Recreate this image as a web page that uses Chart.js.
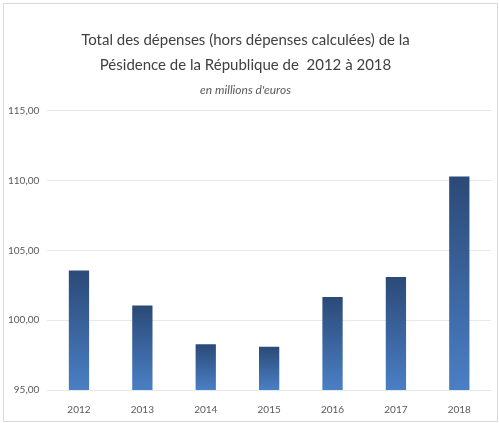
<!DOCTYPE html>
<html>
<head>
<meta charset="utf-8">
<script src="https://cdn.jsdelivr.net/npm/chart.js@4"></script>
<style>
  html, body { margin: 0; padding: 0; background: #fff; }
  #wrap { width: 499px; height: 423px; position: relative; }
</style>
</head>
<body>
<div id="wrap"><canvas id="depChart"></canvas></div>
<script>
const years = ["2012", "2013", "2014", "2015", "2016", "2017", "2018"];
const depenses = [103.56, 101.06, 98.27, 98.10, 101.66, 103.10, 110.30];
const yTicks = [95, 100, 105, 110, 115];

const fontFam = "Lato, 'Open Sans', sans-serif";

// dark top, lighter bottom, per bar
function barGradient(context) {
    const chart = context.chart;
    const y = chart.scales && chart.scales.y;
    if (!chart.chartArea || !y) return "#35609c";
    const v = context.raw;
    const top = y.getPixelForValue(v);
    const base = y.getPixelForValue(yTicks[0]);
    const g = chart.ctx.createLinearGradient(0, top, 0, base);
    g.addColorStop(0, "#2b4a77");
    g.addColorStop(1, "#4a7fc5");
    return g;
}

const framePlugin = {
    id: "frame",
    afterDraw(chart) {
        const ctx = chart.ctx;
        ctx.save();
        ctx.strokeStyle = "#d9d9d9";
        ctx.lineWidth = 1;
        ctx.strokeRect(3.5, 3.5, chart.width - 5, chart.height - 5);
        ctx.restore();
    }
};

new Chart(document.getElementById("depChart"), {
    type: "bar",
    data: {
        labels: years,
        datasets: [{
            label: "Total des dépenses",
            data: depenses,
            backgroundColor: barGradient,
            borderWidth: 0,
            categoryPercentage: 1,
            barPercentage: 0.32
        }]
    },
    options: {
        responsive: true,
        maintainAspectRatio: false,
        animation: false,
        layout: { padding: { left: 0, right: 8, top: 20, bottom: 1 } },
        plugins: {
            legend: { display: false },
            tooltip: { enabled: false },
            title: {
                display: true,
                text: ["Total des dépenses (hors dépenses calculées) de la", "Pésidence de la République de  2012 à 2018"],
                color: "#404040",
                align: "center",
                font: { family: fontFam, size: 15, weight: "normal", lineHeight: 1.65 },
                padding: { top: 8, bottom: 0 }
            },
            subtitle: {
                display: true,
                text: "en millions d'euros",
                color: "#595959",
                font: { family: fontFam, size: 12, style: "italic" },
                padding: { top: 5, bottom: 14 }
            }
        },
        scales: {
            y: {
                min: 95,
                max: 115,
                afterBuildTicks(axis) { axis.ticks = yTicks.map(v => ({ value: v })); },
                ticks: {
                    color: "#595959",
                    font: { family: fontFam, size: 10 },
                    padding: 8,
                    callback: v => v.toFixed(2).replace(".", ",")
                },
                grid: { color: "#e8e8e8", drawTicks: false },
                border: { display: false }
            },
            x: {
                ticks: {
                    color: "#595959",
                    font: { family: fontFam, size: 10 },
                    padding: 6
                },
                grid: { display: false },
                border: { display: false }
            }
        }
    },
    plugins: [framePlugin]
});
</script>
</body>
</html>
